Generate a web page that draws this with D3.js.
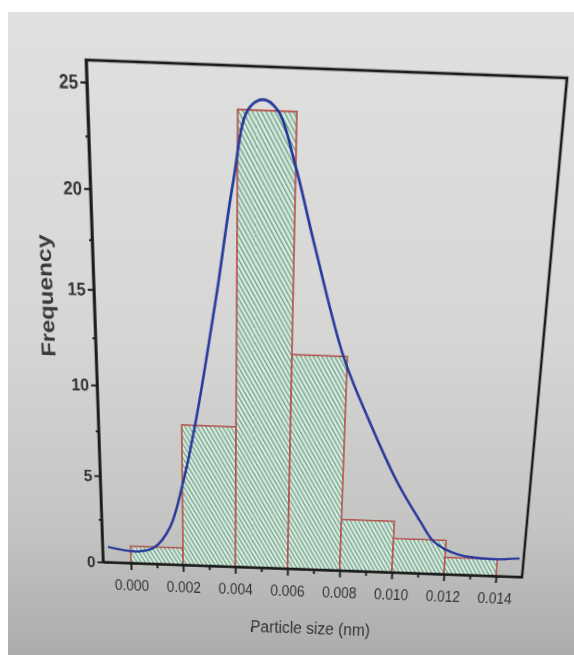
<!DOCTYPE html>
<html>
<head>
<meta charset="utf-8">
<script src="https://cdn.jsdelivr.net/npm/d3@7"></script>
<style>
	html, body { margin: 0; padding: 0; background: #fff; }
	#page { position: relative; width: 574px; height: 655px; overflow: hidden; }
	#screen { position: absolute; left: 8px; top: 12px; right: 0; bottom: 0;
		background: linear-gradient(to bottom, #e0e0de 0%, #d6d6d4 50%, #c4c4c3 80%, #acacac 100%); }
	#chart { position: absolute; left: 0; top: 0; transform-origin: 0 0; overflow: visible; }
	text { font-family: "Liberation Sans", Arial, sans-serif; fill: #333; }
</style>
</head>
<body>
<div id="page"><div id="screen"></div><svg id="chart"></svg></div>
<script>
// histogram bins (particle size, nm) and counts
const binEdges = [0.000, 0.002, 0.004, 0.006, 0.008, 0.010, 0.012, 0.014];
const counts = [1, 8, 24, 12, 3, 2, 1];

// fitted curve
const fitX = [-0.00086, 0.00028, 0.00093, 0.00152, 0.00203, 0.00249, 0.00287, 0.00331, 0.00386, 0.00435, 0.00486,
	0.00537, 0.00598, 0.00674, 0.00786, 0.00882, 0.01005, 0.0110, 0.01154, 0.01249, 0.01376, 0.01484];
const fitY = [0.9, 0.7, 1.0, 2.2, 4.8, 8.0, 11.2, 15.2, 20.6, 24.0, 24.5,
	24.0, 21.5, 17.5, 12.0, 8.8, 5.2, 3.0, 1.9, 1.2, 1.0, 1.1];

const xTicks = [0.000, 0.002, 0.004, 0.006, 0.008, 0.010, 0.012, 0.014];
const xMinor = [0.001, 0.003, 0.005, 0.007, 0.009, 0.011, 0.013];
const yTicks = [0, 5, 10, 15, 20, 25];
const yMinor = [2.5, 7.5, 12.5, 17.5, 22.5];

const width = 574;
const height = 700;
const frame = {left: 95, top: 66, right: 545, bottom: 570};

// the photo is taken at an angle: map the flat frame onto the quad seen in the picture
const quad = [[86, 60], [567, 78], [522, 577], [103, 562]];

function quadMatrix(src, dst) {
	const [[x0, y0], [x1, y1], [x2, y2], [x3, y3]] = dst;
	const dx1 = x1 - x2, dx2 = x3 - x2, dx3 = x0 - x1 + x2 - x3;
	const dy1 = y1 - y2, dy2 = y3 - y2, dy3 = y0 - y1 + y2 - y3;
	const den = dx1 * dy2 - dx2 * dy1;
	const g = (dx3 * dy2 - dx2 * dy3) / den;
	const h = (dx1 * dy3 - dx3 * dy1) / den;
	const a = x1 - x0 + g * x1, b = x3 - x0 + h * x3, c = x0;
	const d = y1 - y0 + g * y1, e = y3 - y0 + h * y3, f = y0;
	const sw = src.right - src.left, sh = src.bottom - src.top;
	const A = a / sw, B = b / sh, C = c - A * src.left - B * src.top;
	const D = d / sw, E = e / sh, F = f - D * src.left - E * src.top;
	const G = g / sw, H = h / sh, I = 1 - G * src.left - H * src.top;
	return `matrix3d(${[A, D, 0, G, B, E, 0, H, 0, 0, 1, 0, C, F, 0, I].join(",")})`;
}

const svg = d3.select("#chart")
	.attr("width", width)
	.attr("height", height)
	.style("transform", quadMatrix(frame, quad));

const x = d3.scaleLinear()
	.domain([-0.00107, 0.0150])
	.range([frame.left, frame.right]);
const y = d3.scaleLinear()
	.domain([0, 26])
	.range([frame.bottom, frame.top]);

// hatch pattern
const defs = svg.append("defs");
const pat = defs.append("pattern")
	.attr("id", "hatch")
	.attr("patternUnits", "userSpaceOnUse")
	.attr("width", 3.8)
	.attr("height", 3.8)
	.attr("patternTransform", "rotate(-30)");
pat.append("rect").attr("width", 3.8).attr("height", 3.8).attr("fill", "#e3e9e4");
pat.append("rect").attr("width", 1.3).attr("height", 3.8).attr("fill", "#5da27f");

svg.selectAll(".bar")
	.data(counts)
	.enter()
	.append("rect")
	.attr("class", "bar")
	.attr("x", (d, i) => x(binEdges[i]))
	.attr("width", (d, i) => x(binEdges[i + 1]) - x(binEdges[i]))
	.attr("y", d => y(d))
	.attr("height", d => y(0) - y(d))
	.attr("fill", "url(#hatch)")
	.attr("stroke", "#b44f4c")
	.attr("stroke-width", 1.6);

const line = d3.line()
	.x(d => x(d[0]))
	.y(d => y(d[1]))
	.curve(d3.curveCatmullRom.alpha(0.5));

svg.append("path")
	.datum(fitX.map((d, i) => [d, fitY[i]]))
	.attr("fill", "none")
	.attr("stroke", "#27399b")
	.attr("stroke-width", 2.6)
	.attr("d", line);

// frame (top and right)
svg.append("rect")
	.attr("x", frame.left)
	.attr("y", frame.top)
	.attr("width", frame.right - frame.left)
	.attr("height", frame.bottom - frame.top)
	.attr("fill", "none")
	.attr("stroke", "#1c1c1c")
	.attr("stroke-width", 2.6);

const styleAxis = g => {
	g.select(".domain").attr("stroke", "#1c1c1c").attr("stroke-width", 2.4);
	g.selectAll(".tick line").attr("stroke", "#1c1c1c").attr("stroke-width", 2);
};

svg.append("g")
	.attr("transform", `translate(0,${frame.bottom})`)
	.call(d3.axisBottom(x).tickValues(xTicks).tickFormat(d3.format(".3f")).tickSize(8).tickPadding(11).tickSizeOuter(0))
	.call(styleAxis)
	.call(g => g.selectAll("text")
		.attr("font-size", 19)
		.attr("textLength", 37)
		.attr("lengthAdjust", "spacingAndGlyphs")
		.style("fill", "#333"));

svg.append("g")
	.attr("transform", `translate(0,${frame.bottom})`)
	.call(d3.axisBottom(x).tickValues(xMinor).tickFormat("").tickSize(5).tickSizeOuter(0))
	.call(styleAxis)
	.call(g => g.select(".domain").remove());

svg.append("g")
	.attr("transform", `translate(${frame.left},0)`)
	.call(d3.axisLeft(y).tickValues(yTicks).tickSize(6).tickPadding(3).tickSizeOuter(0))
	.call(styleAxis)
	.call(g => g.selectAll("text")
		.attr("font-size", 18)
		.attr("font-weight", "bold")
		.attr("transform", "scale(0.9,1)")
		.style("fill", "#333"));

svg.append("g")
	.attr("transform", `translate(${frame.left},0)`)
	.call(d3.axisLeft(y).tickValues(yMinor).tickFormat("").tickSize(3).tickSizeOuter(0))
	.call(styleAxis)
	.call(g => g.select(".domain").remove());

svg.append("text")
	.attr("transform", `translate(54,${(frame.top + frame.bottom) / 2 - 30}) rotate(-90)`)
	.attr("text-anchor", "middle")
	.attr("font-size", 20)
	.attr("font-weight", "bold")
	.attr("textLength", 121)
	.attr("lengthAdjust", "spacingAndGlyphs")
	.style("fill", "#3a3a3a")
	.text("Frequency");

svg.append("text")
	.attr("x", 319)
	.attr("y", 646)
	.attr("text-anchor", "middle")
	.attr("font-size", 20)
	.attr("textLength", 131)
	.attr("lengthAdjust", "spacingAndGlyphs")
	.text("Particle size (nm)");
</script>
</body>
</html>
